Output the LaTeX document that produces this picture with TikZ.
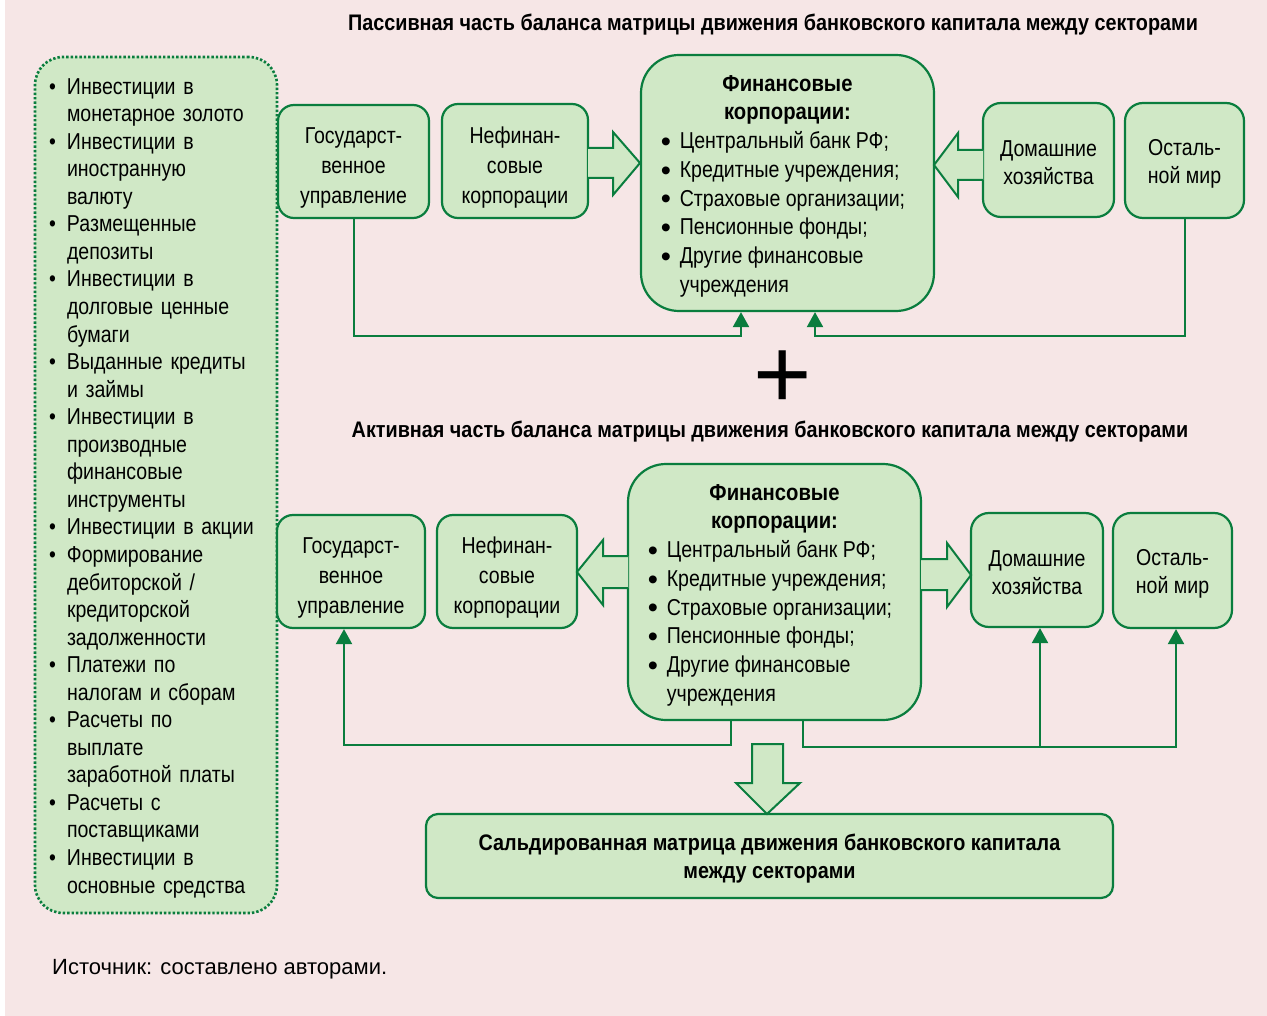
\documentclass[tikz,border=0pt]{standalone}
\usepackage{fontspec}
\setmainfont{Liberation Sans}[FakeStretch=0.85, BoldFeatures={FakeStretch=0.88}]
\newfontfamily\bulfont{Liberation Sans}
\usetikzlibrary{arrows.meta}
\definecolor{bg}{HTML}{F6E6E6}
\definecolor{gfill}{HTML}{D0E8C6}
\definecolor{gline}{HTML}{0A7D3E}
\newcommand{\lbul}{\makebox[18pt][l]{•}}
\newcommand{\lind}{\hspace*{18pt}}
\newcommand{\fbul}{\makebox[19pt][l]{\raisebox{-2.8pt}{\bulfont\fontsize{29}{29}\selectfont •}}}
\newcommand{\tstrut}[1]{\rule{0pt}{#1}}
\begin{document}
\begin{tikzpicture}[x=1pt,y=-1pt,
  box/.style={draw=gline, fill=gfill, line width=2.2pt, rounded corners=16pt, inner sep=0pt, align=center, font=\fontsize{23}{30}\selectfont},
  smallbox/.style={box, rounded corners=18pt, font=\fontsize{23}{28.5}\selectfont},
  finbox/.style={box, rounded corners=38pt, minimum width=293pt, minimum height=256pt, font=\fontsize{23}{28.7}\selectfont},
  listbox/.style={draw=gline, fill=gfill, line width=2.6pt, dash pattern=on 2.4pt off 2pt, rounded corners=28pt, inner xsep=14pt, inner ysep=0pt, text width=214pt, align=left, minimum height=856pt, font=\fontsize{23}{27.55}\selectfont},
  conn/.style={draw=gline, line width=2pt},
  tip/.style={-{Triangle[length=15pt,width=16pt]}},
  hollow/.style={draw=gline, fill=gfill, line width=2pt, line join=miter},
  titlefont/.style={font=\bfseries\fontsize{22.5}{26}\selectfont, inner sep=0pt}
]
\useasboundingbox (0,0) rectangle (1267,1016);
\fill[white] (0,0) rectangle (1267,1016);
\fill[bg] (5,0) rectangle (1267,1016);

% titles
\node[titlefont] (t1) at (773,25) {Пассивная часть баланса матрицы движения банковского капитала между секторами};
\node[titlefont] (t2) at (770,432) {Активная часть баланса матрицы движения банковского капитала между секторами};
\node[inner sep=0pt, font=\bulfont\fontsize{100}{100}\selectfont] (plus) at (783,380) {+};

% left list
\node[listbox] (list) at (156,485) {\tstrut{22pt}\lbul Инвестиции в\\ \lind монетарное золото\\
\lbul Инвестиции в\\ \lind иностранную\\ \lind валюту\\
\lbul Размещенные\\ \lind депозиты\\
\lbul Инвестиции в\\ \lind долговые ценные\\ \lind бумаги\\
\lbul Выданные кредиты\\ \lind и займы\\
\lbul Инвестиции в\\ \lind производные\\ \lind финансовые\\ \lind инструменты\\
\lbul Инвестиции в акции\\
\lbul Формирование\\ \lind дебиторской /\\ \lind кредиторской\\ \lind задолженности\\
\lbul Платежи по\\ \lind налогам и сборам\\
\lbul Расчеты по\\ \lind выплате\\ \lind заработной платы\\
\lbul Расчеты с\\ \lind поставщиками\\
\lbul Инвестиции в\\ \lind основные средства};

% top row
\node[box, minimum width=151pt, minimum height=113pt] (gos1) at (353.5,161.5) {\tstrut{29pt}Государст-\\венное\\управление};
\node[box, minimum width=146pt, minimum height=114pt] (nef1) at (515,161) {\tstrut{30pt}Нефинан-\\совые\\корпорации};
\node[finbox] (fin1) at (787.5,183) {\begin{tabular}{@{}l@{}}
\multicolumn{1}{c}{\tstrut{26pt}\hspace*{9pt}\bfseries Финансовые}\\
\multicolumn{1}{c}{\hspace*{9pt}\bfseries корпорации:}\\
\fbul Центральный банк РФ;\\
\fbul Кредитные учреждения;\\
\fbul Страховые организации;\\
\fbul Пенсионные фонды;\\
\fbul Другие финансовые\\
\hspace*{19pt}учреждения
\end{tabular}\hspace*{9pt}};
\node[smallbox, minimum width=131pt, minimum height=114pt] (dom1) at (1048.5,160) {\tstrut{21pt}Домашние\\хозяйства};
\node[smallbox, minimum width=119pt, minimum height=115pt] (ost1) at (1184.5,160.5) {\tstrut{23pt}Осталь-\\ной мир};

% bottom row
\node[box, minimum width=148pt, minimum height=113pt] (gos2) at (351,571.5) {\tstrut{29pt}Государст-\\венное\\управление};
\node[box, minimum width=140pt, minimum height=113pt] (nef2) at (507,571.5) {\tstrut{29pt}Нефинан-\\совые\\корпорации};
\node[finbox] (fin2) at (774.5,592) {\begin{tabular}{@{}l@{}}
\multicolumn{1}{c}{\tstrut{26pt}\hspace*{9pt}\bfseries Финансовые}\\
\multicolumn{1}{c}{\hspace*{9pt}\bfseries корпорации:}\\
\fbul Центральный банк РФ;\\
\fbul Кредитные учреждения;\\
\fbul Страховые организации;\\
\fbul Пенсионные фонды;\\
\fbul Другие финансовые\\
\hspace*{19pt}учреждения
\end{tabular}\hspace*{9pt}};
\node[smallbox, minimum width=132pt, minimum height=114pt] (dom2) at (1037,570) {\tstrut{21pt}Домашние\\хозяйства};
\node[smallbox, minimum width=119pt, minimum height=115pt] (ost2) at (1172.5,570.5) {\tstrut{23pt}Осталь-\\ной мир};

\node[box, rounded corners=12pt, minimum width=687pt, minimum height=84pt, font=\bfseries\fontsize{22.5}{28}\selectfont] (saldo) at (769.5,856) {\tstrut{22.5pt}Сальдированная матрица движения банковского капитала\\между секторами};

% hollow arrows
\fill[gfill] (588,148) -- (613,148) -- (613,132) -- (640,163) -- (613,195) -- (613,178) -- (588,178) -- cycle;
\draw[hollow] (588,148) -- (613,148) -- (613,132) -- (640,163) -- (613,195) -- (613,178) -- (588,178);
\fill[gfill] (983,150) -- (958,150) -- (958,133) -- (934,165) -- (958,197) -- (958,180) -- (983,180) -- cycle;
\draw[hollow] (983,150) -- (958,150) -- (958,133) -- (934,165) -- (958,197) -- (958,180) -- (983,180);
\fill[gfill] (628,556) -- (603,556) -- (603,540) -- (577,572) -- (603,605) -- (603,588) -- (628,588) -- cycle;
\draw[hollow] (628,556) -- (603,556) -- (603,540) -- (577,572) -- (603,605) -- (603,588) -- (628,588);
\fill[gfill] (921,559) -- (947,559) -- (947,543) -- (971,575) -- (947,607) -- (947,590) -- (921,590) -- cycle;
\draw[hollow] (921,559) -- (947,559) -- (947,543) -- (971,575) -- (947,607) -- (947,590) -- (921,590);
\draw[hollow] (752,744) -- (752,783) -- (736,783) -- (767,814) -- (800,783) -- (783,783) -- (783,744) -- cycle;

% connectors top
\coordinate (f1a) at ([xshift=-46.5pt]fin1.south);
\coordinate (f1b) at ([xshift=27.5pt]fin1.south);
\draw[conn,tip] (gos1.south) -- ++(0,117) -| (f1a);
\draw[conn,tip] (ost1.south) -- ++(0,117) -| (f1b);

% connectors bottom
\coordinate (f2a) at ([xshift=-43.5pt]fin2.south);
\coordinate (f2b) at ([xshift=28.5pt]fin2.south);
\coordinate (g2) at ([xshift=-7pt]gos2.south);
\coordinate (d2) at ([xshift=3pt]dom2.south);
\coordinate (o2) at ([xshift=3.5pt]ost2.south);
\draw[conn,tip] (f2a) -- ++(0,24) -| (g2);
\draw[conn,tip] (f2b) -- ++(0,26) -| (o2);
\draw[conn,tip] (d2 |- 0,746) -- (d2);

\node[anchor=west, inner sep=0pt, font=\bulfont\fontsize{22}{26}\selectfont] (src) at (52,969) {Источник: составлено авторами.};
\end{tikzpicture}
\end{document}
